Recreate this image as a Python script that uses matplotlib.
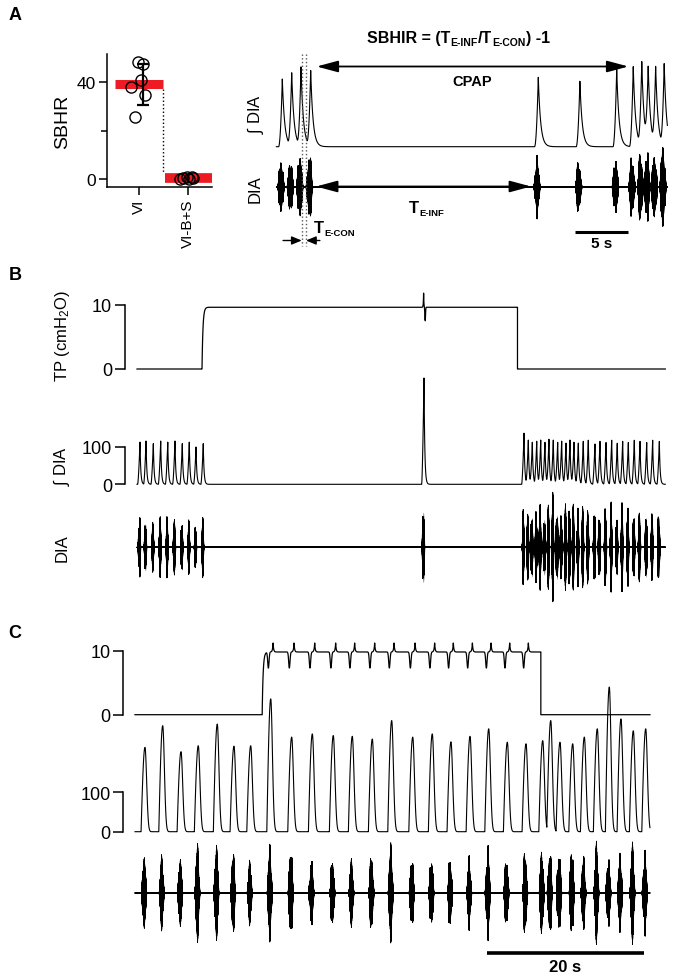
import numpy as np
import matplotlib
matplotlib.use("Agg")
import matplotlib.pyplot as plt

plt.rcParams['font.family'] = ['Liberation Sans', 'DejaVu Sans']
plt.rcParams['mathtext.fontset'] = 'custom'
plt.rcParams['mathtext.rm'] = 'Liberation Sans'
plt.rcParams['mathtext.it'] = 'Liberation Sans:italic'
plt.rcParams['mathtext.bf'] = 'Liberation Sans:bold'
plt.rcParams['path.simplify'] = False

# ---------------- data ----------------
# A (left): SBHR per animal
groups = ['VI', 'VI-B+S']
sbhr_vi = [48.4, 47.4, 41.0, 38.0, 34.8, 25.6]
sbhr_vibs = [0.3, 0.7, 1.1, 0.2, 0.9, 0.5]

# A (right): example record, times in s, amplitudes in a.u.
a_peak_t = [0.31, 1.19, 2.06, 2.97, 24.3, 28.2, 31.65, 33.2, 34.0, 34.6, 35.3, 36.1]
a_int_amp = [67.7, 72.7, 78.4, 75.0, 69.4, 65.4, 77.7, 80.0, 83.0, 75.0, 77.0, 81.0]
a_raw_amp = [32, 31.5, 38.4, 39, 31.9, 30, 33.4, 35.9, 39, 43.2, 39, 47.4]
a_cpap = (3.53, 32.74)
a_te_con = (2.13, 2.53)
a_te_inf = (3.47, 23.62)

# B: TP (cmH2O), integrated DIA (%), raw DIA
b_peak_t = [0.38, 1.15, 2.08, 3.02, 3.92, 4.84, 5.77, 6.66, 7.52, 8.44,
            36.56,
            49.30, 49.85, 50.36, 50.92, 51.43, 51.97, 52.48, 53.03, 53.59, 54.10,
            54.65, 55.16, 55.67, 56.22, 56.85, 57.49, 58.34, 58.98, 59.75, 60.47,
            61.18, 61.87, 62.59, 63.35, 64.08, 64.93, 65.69, 66.54]
b_int_amp = [113, 116, 109, 116, 113, 116, 109, 113, 100, 109,
             285,
             137, 118, 112, 115, 118, 112, 120, 118, 112, 115,
             110, 118, 112, 110, 115, 118, 108, 115, 112, 118,
             110, 115, 112, 118, 115, 112, 118, 115]
b_raw_amp = [45, 38, 31, 33, 35, 38, 37, 33, 28, 31,
             57,
             40, 45, 48, 42, 50, 45, 55, 58, 52, 48,
             45, 50, 55, 52, 45, 48, 52, 45, 50, 48,
             45, 50, 48, 45, 50, 48, 45, 48]
b_cpap = (8.28, 48.47)
b_tp_level = 9.6
b_tp_event = [36.56]

# C
c_peak_t = [1.27, 3.53, 5.86, 8.06, 10.48, 12.61, 14.74, 17.29, 19.96, 22.59,
            25.26, 27.68, 30.23, 32.70, 35.38, 37.87, 40.25, 42.68, 45.06, 47.43,
            49.81, 51.94, 52.96, 54.14, 55.76, 57.24, 58.89, 60.42, 61.91, 63.48, 65.06]
c_int_amp = [214, 269, 203, 218, 273, 217, 218, 337, 240, 248,
             244, 242, 235, 282, 240, 248, 228, 242, 261, 227,
             223, 231, 282, 227, 223, 240, 261, 367, 286, 256, 261]
c_raw_amp = [42, 39, 39, 52, 52, 45, 34, 52, 52, 39,
             39, 36, 44, 52, 41, 41, 41, 39, 52, 41,
             47, 47, 49, 50, 52, 41, 52, 41, 44, 52, 47]
c_cpap = (16.2, 51.7)
c_tp_level = 9.8

# ---------------- signal shapes ----------------
fs = 2000.0


def tgrid(t0, t1):
    return np.arange(t0, t1, 1.0 / fs)


def integ(t, peaks, amps, rise, fall, p=2.0, rounded=False):
    y = np.zeros_like(t)
    for tp, a in zip(peaks, amps):
        u = np.clip((t - tp + rise) / rise, 0, 1)
        up = np.sin(np.pi / 2 * u) ** p if rounded else u ** p
        x = np.clip(t - tp, 0, None)
        dn = np.exp(-(x / fall) ** 2) if rounded else np.exp(-x / fall)
        y += a * np.where(t <= tp, up, dn)
    return y


def envelope(t, centers, amps, half):
    env = np.zeros_like(t)
    for c, a in zip(centers, amps):
        u = (t - c) / half
        env += a * np.clip(1 - np.abs(u) ** 1.6, 0, None) ** 1.3
    return env


def emg(t, env):
    mod = 0.7 + 0.3 * np.cos(2 * np.pi * 3.7 * t) * np.cos(2 * np.pi * 1.3 * t + 0.5)
    hum = 0.35 * np.sin(2 * np.pi * 97 * t)
    return env * mod * np.sin(2 * np.pi * 173 * t) + hum


def draw_raw(ax, t, centers, amps, half):
    env = envelope(t, centers, amps, half)
    ax.fill_between(t, -0.62 * env, 0.62 * env, color='k', lw=0)
    ax.plot(t, emg(t, env), color='k', lw=0.5)


def pressure(t, on, off, level, events, dip, spike, dip_dt, spike_dt, w):
    y = np.where((t >= on) & (t < off),
                 level * (1 - np.exp(-np.clip(t - on, 0, None) / 0.12)), 0.0)
    for tb in events:
        if on < tb < off:
            y += -dip * np.exp(-((t - tb - dip_dt) / w) ** 2)
            y += spike * np.exp(-np.abs(t - tb - spike_dt) / (0.6 * w))
    return y


# ---------------- layout helpers (pixels) ----------------
W, H = 674, 978
fig = plt.figure(figsize=(W / 100, H / 100), dpi=100)


def add_ax(l, t, r, b):
    ax = fig.add_axes([l / W, 1 - b / H, (r - l) / W, (b - t) / H])
    ax.patch.set_visible(False)
    for s in ax.spines.values():
        s.set_visible(False)
    ax.set_xticks([])
    ax.set_yticks([])
    return ax


def trace_ax(l, t, r, b, x0, pps, y0, ppu):
    ax = add_ax(l, t, r, b)
    ax.set_xlim((l - x0) / pps, (r - x0) / pps)
    ax.set_ylim((y0 - b) / ppu, (y0 - t) / ppu)
    return ax


def calib(ax, lo, hi):
    ax.spines['left'].set_visible(True)
    ax.spines['left'].set_bounds(lo, hi)
    ax.spines['left'].set_linewidth(1.1)
    ax.set_yticks([lo, hi])
    ax.tick_params(axis='y', direction='out', length=7, width=1.1, labelsize=13, pad=2)


def ftext(x, y, s, **kw):
    return fig.text(x / W, 1 - y / H, s, **kw)


def sub_chain(host, x, y, parts, size, subsize, drop=1.5):
    base = ftext(x, y, parts[0][0], fontsize=size, fontweight='bold', ha='left', va='baseline')
    prev = base
    for s, is_sub in parts[1:]:
        if is_sub:
            prev = host.annotate(s, xy=(1, 0), xycoords=(prev, base), xytext=(0.3, -drop),
                                 textcoords='offset points', fontsize=subsize, fontweight='bold',
                                 ha='left', va='bottom', annotation_clip=False)
        else:
            prev = host.annotate(s, xy=(1, 0), xycoords=(prev, base), xytext=(0, 0),
                                 textcoords='offset points', fontsize=size, fontweight='bold',
                                 ha='left', va='bottom', annotation_clip=False)
    return base


red = '#ed1c24'

# ---------------- panel A, summary ----------------
axs = fig.add_axes([106.7 / W, 1 - 188.3 / H, 105 / W, 133.3 / H])
axs.set_xlim(-0.665, 1.478)
axs.set_ylim(-3.3, 51.7)
jit_vi = [-0.02, 0.08, 0.04, -0.16, 0.12, -0.08]
jit_vibs = [-0.17, -0.1, -0.03, 0.02, 0.07, 0.1]
m_vi, m_vibs = np.mean(sbhr_vi), np.mean(sbhr_vibs)
axs.hlines(m_vi, -0.49, 0.49, color=red, lw=6.5, zorder=1)
axs.hlines(m_vibs, 0.53, 1.49, color=red, lw=7, zorder=1, clip_on=False)
axs.plot([0.49, 0.49], [m_vi - 2, m_vibs + 2], ':', color='k', lw=1)
axs.plot(np.array(jit_vi), sbhr_vi, 'o', mfc='none', mec='k', ms=8, mew=1, zorder=3)
axs.plot(1 + np.array(jit_vibs), sbhr_vibs, 'o', mfc='none', mec='k', ms=8, mew=1,
         zorder=3, clip_on=False)
axs.errorbar([0.08], [m_vi], yerr=[np.std(sbhr_vi, ddof=1)], fmt='none', ecolor='k',
             elinewidth=1.6, capsize=4, capthick=1.6, zorder=4)
for s in ['top', 'right']:
    axs.spines[s].set_visible(False)
for s in ['left', 'bottom']:
    axs.spines[s].set_linewidth(1.1)
axs.set_yticks([0, 40])
axs.set_yticks([20], minor=True)
axs.set_xticks([0, 1])
axs.set_xticklabels(groups, rotation=90)
axs.tick_params(axis='both', which='major', length=6, width=1.1, labelsize=11, pad=2)
axs.tick_params(axis='y', which='major', labelsize=12.5)
axs.tick_params(axis='y', which='minor', length=4, width=1.1)
axs.set_ylabel('SBHR', fontsize=14, labelpad=4)

# ---------------- panel A, traces ----------------
a_x0, a_pps = 279.0, 10.67
ta = tgrid(-0.25, 36.4)
ax_ai = trace_ax(272, 48, 668, 152, a_x0, a_pps, 147.7, 1.0)
ax_ai.plot(ta, integ(ta, a_peak_t, a_int_amp, 0.35, 0.22, 2.0), color='k', lw=0.8)
ax_ar = trace_ax(272, 130, 668, 245, a_x0, a_pps, 188.0, 1.0)
draw_raw(ax_ar, ta, np.array(a_peak_t) - 0.12, a_raw_amp, 0.32)

ov = add_ax(250, 28, 668, 255)
ov.set_xlim((250 - a_x0) / a_pps, (668 - a_x0) / a_pps)
ov.set_ylim(255, 28)
big = dict(arrowstyle='<|-|>,head_length=1.3,head_width=0.35', color='k', lw=1.3,
           shrinkA=0, shrinkB=0)
ov.annotate('', xy=(a_cpap[1], 67.5), xytext=(a_cpap[0], 67.5), arrowprops=big)
ov.text(np.mean(a_cpap), 82, 'CPAP', fontsize=10.5, fontweight='bold', ha='center', va='center')
ov.annotate('', xy=(a_te_inf[1], 187.5), xytext=(a_te_inf[0], 187.5), arrowprops=big)
ov.vlines(a_te_con, 55, 247, colors='0.35', linestyles=':', lw=1)
small = dict(arrowstyle='-|>,head_length=0.6,head_width=0.25', color='k', lw=1,
             shrinkA=0, shrinkB=0)
ov.annotate('', xy=(a_te_con[0], 241.5), xytext=(a_te_con[0] - 1.75, 241.5), arrowprops=small)
ov.annotate('', xy=(a_te_con[1], 241.5), xytext=(a_te_con[1] + 1.3, 241.5), arrowprops=small)
ov.plot([a_cpap[1] - 5, a_cpap[1]], [232.7, 232.7], color='k', lw=2.2, solid_capstyle='butt')
ov.text(a_cpap[1] - 2.5, 244, '5 s', fontsize=11, fontweight='bold', ha='center', va='center')

sub_chain(ov, 367, 43, [('SBHIR = (T', False), ('E-INF', True), ('/T', False),
                        ('E-CON', True), (') -1', False)], 11.5, 7.5)
sub_chain(ov, 409, 213, [('T', False), ('E-INF', True)], 12, 6.8)
sub_chain(ov, 314, 233, [('T', False), ('E-CON', True)], 12, 6.8)

ftext(255, 114, r'$\int$ DIA', fontsize=12, rotation=90, ha='center', va='center')
ftext(255, 189, 'DIA', fontsize=12, rotation=90, ha='center', va='center')

# ---------------- panel B ----------------
b_x0, b_pps = 137.0, 7.85
tb = tgrid(0, 67.3)
ax_bp = trace_ax(124.5, 285, 666, 380, b_x0, b_pps, 370.0, 6.43)
ax_bp.plot(tb, pressure(tb, b_cpap[0], b_cpap[1], b_tp_level, b_tp_event, 2.1, 2.2, 0.15, -0.05, 0.06),
           color='k', lw=0.9)
calib(ax_bp, 0, 10)
ax_bi = trace_ax(124.5, 370, 666, 492, b_x0, b_pps, 485.3, 0.373)
ax_bi.plot(tb, integ(tb, b_peak_t, b_int_amp, 0.3, 0.1, 1.5), color='k', lw=0.8)
calib(ax_bi, 0, 100)
ax_br = trace_ax(124.5, 480, 666, 615, b_x0, b_pps, 548.3, 1.0)
draw_raw(ax_br, tb, np.array(b_peak_t) - 0.08, b_raw_amp, 0.18)

ftext(62, 336, 'TP (cmH$_2$O)', fontsize=12, rotation=90, ha='center', va='center')
ftext(62, 466, r'$\int$ DIA', fontsize=12, rotation=90, ha='center', va='center')
ftext(62, 548, 'DIA', fontsize=12, rotation=90, ha='center', va='center')

# ---------------- panel C ----------------
c_x0, c_pps = 135.0, 7.85
tc = tgrid(0, 65.6)
ax_cp = trace_ax(123, 640, 652, 725, c_x0, c_pps, 715.7, 6.4)
ax_cp.plot(tc, pressure(tc, c_cpap[0], c_cpap[1], c_tp_level, c_peak_t, 2.5, 1.4, -0.3, 0.3, 0.12),
           color='k', lw=0.9)
calib(ax_cp, 0, 10)
ax_ci = trace_ax(123, 680, 652, 840, c_x0, c_pps, 832.7, 0.394)
ax_ci.plot(tc, integ(tc, c_peak_t, c_int_amp, 0.5, 0.3, 1.0, rounded=True), color='k', lw=0.8)
calib(ax_ci, 0, 100)
ax_cr = trace_ax(123, 835, 652, 950, c_x0, c_pps, 894.0, 1.0)
draw_raw(ax_cr, tc, np.array(c_peak_t) - 0.12, c_raw_amp, 0.35)

ovc = add_ax(123, 935, 652, 978)
ovc.set_xlim((123 - c_x0) / c_pps, (652 - c_x0) / c_pps)
ovc.set_ylim(978, 935)
c_bar_end = 64.84
ovc.plot([c_bar_end - 20, c_bar_end], [954, 954], color='k', lw=2.6, solid_capstyle='butt')
ovc.text(c_bar_end - 10, 968, '20 s', fontsize=12, fontweight='bold', ha='center', va='center')

# panel letters
for letter, y in [('A', 15), ('B', 276), ('C', 633)]:
    ftext(15, y, letter, fontsize=13, fontweight='bold', ha='center', va='center')

fig.savefig('out.png', dpi=100)
